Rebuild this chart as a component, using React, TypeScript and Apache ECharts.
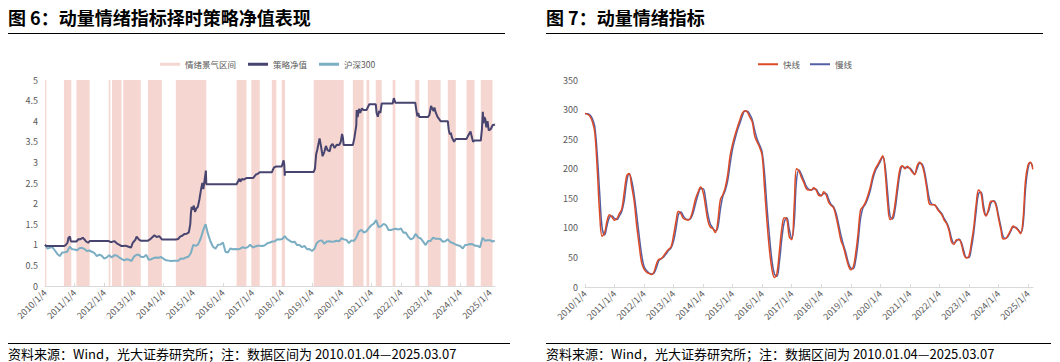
import React, { useEffect, useRef } from 'react';
import * as echarts from 'echarts';

const FONT = '"Noto Sans CJK SC", "Noto Sans", sans-serif';

const TITLE_LEFT = '图 6：动量情绪指标择时策略净值表现';
const TITLE_RIGHT = '图 7：动量情绪指标';
const FOOTER = '资料来源：Wind，光大证券研究所；注：数据区间为 2010.01.04—2025.03.07';

const TICK_LABELS = [
  '2010/1/4', '2011/1/4', '2012/1/4', '2013/1/4', '2014/1/4', '2015/1/4', '2016/1/4', '2017/1/4',
  '2018/1/4', '2019/1/4', '2020/1/4', '2021/1/4', '2022/1/4', '2023/1/4', '2024/1/4', '2025/1/4',
];
const START_DATE = '2010-01-04';
const END_DATE = '2025-03-07';

// 情绪景气区间 (start, end)
const SENTIMENT_PERIODS: [string, string][] = [
  ['2010-01-04', '2010-01-20'],
  ['2010-08-25', '2010-11-24'],
  ['2011-01-26', '2011-07-08'],
  ['2012-02-28', '2012-03-18'],
  ['2012-04-08', '2012-08-03'],
  ['2012-08-25', '2013-03-28'],
  ['2013-06-25', '2013-12-13'],
  ['2014-06-03', '2015-06-13'],
  ['2016-06-20', '2016-10-19'],
  ['2016-12-19', '2017-04-01'],
  ['2017-08-28', '2017-10-22'],
  ['2017-12-28', '2018-02-06'],
  ['2019-01-26', '2020-01-30'],
  ['2020-05-22', '2020-09-30'],
  ['2020-11-06', '2020-12-10'],
  ['2021-02-28', '2021-05-12'],
  ['2021-09-24', '2021-10-27'],
  ['2022-06-29', '2022-08-18'],
  ['2022-12-01', '2023-05-07'],
  ['2023-08-04', '2023-11-10'],
  ['2024-03-22', '2024-06-28'],
  ['2024-09-13', '2025-02-04'],
];

// 策略净值 (date, value)
const STRATEGY_NAV: [string, number][] = [
  ['2010-01-04', 1.0], ['2010-01-20', 0.97],
  ['2010-08-25', 0.97], ['2010-09-15', 0.99], ['2010-10-08', 1.05], ['2010-10-20', 1.17], ['2010-11-08', 1.2], ['2010-11-15', 1.1], ['2010-11-24', 1.08],
  ['2011-01-26', 1.08], ['2011-02-20', 1.14], ['2011-03-10', 1.13], ['2011-04-15', 1.17], ['2011-05-10', 1.12], ['2011-05-25', 1.08], ['2011-06-20', 1.05], ['2011-07-08', 1.09],
  ['2012-02-28', 1.09], ['2012-03-18', 1.07],
  ['2012-04-08', 1.07], ['2012-05-05', 1.09], ['2012-06-10', 1.03], ['2012-07-10', 1.0], ['2012-08-03', 0.97],
  ['2012-08-25', 0.97], ['2012-09-20', 0.98], ['2012-10-20', 0.96], ['2012-11-28', 0.93], ['2012-12-20', 1.05], ['2013-01-20', 1.12], ['2013-02-05', 1.2], ['2013-02-25', 1.15], ['2013-03-10', 1.12], ['2013-03-28', 1.1],
  ['2013-06-25', 1.1], ['2013-07-20', 1.13], ['2013-08-15', 1.18], ['2013-09-12', 1.23], ['2013-10-10', 1.19], ['2013-11-10', 1.21], ['2013-12-13', 1.13],
  ['2014-06-03', 1.13], ['2014-07-01', 1.14], ['2014-07-25', 1.2], ['2014-08-20', 1.22], ['2014-09-15', 1.26], ['2014-10-15', 1.27], ['2014-11-10', 1.3], ['2014-11-28', 1.5], ['2014-12-05', 1.75], ['2014-12-15', 1.92], ['2014-12-25', 1.85], ['2015-01-10', 1.95], ['2015-01-25', 1.8], ['2015-02-10', 1.88], ['2015-03-01', 1.92], ['2015-03-20', 2.1], ['2015-04-10', 2.35], ['2015-04-25', 2.5], ['2015-05-08', 2.35], ['2015-05-25', 2.6], ['2015-06-08', 2.8], ['2015-06-13', 2.47],
  ['2016-06-20', 2.47], ['2016-07-10', 2.55], ['2016-07-25', 2.6], ['2016-08-05', 2.53], ['2016-08-25', 2.6], ['2016-09-15', 2.58], ['2016-10-19', 2.62],
  ['2016-12-19', 2.62], ['2017-01-15', 2.63], ['2017-02-10', 2.7], ['2017-03-05', 2.72], ['2017-04-01', 2.76],
  ['2017-08-28', 2.76], ['2017-09-10', 2.82], ['2017-09-25', 2.88], ['2017-10-22', 2.9],
  ['2017-12-28', 2.9], ['2018-01-20', 3.05], ['2018-01-28', 2.95], ['2018-02-03', 2.68], ['2018-02-06', 2.77],
  ['2019-01-26', 2.77], ['2019-02-10', 2.85], ['2019-02-25', 3.2], ['2019-03-10', 3.3], ['2019-04-08', 3.58], ['2019-04-25', 3.4], ['2019-05-15', 3.15], ['2019-06-05', 3.25], ['2019-06-25', 3.4], ['2019-07-15', 3.3], ['2019-08-10', 3.27], ['2019-08-25', 3.4], ['2019-09-15', 3.45], ['2019-10-10', 3.35], ['2019-11-05', 3.43], ['2019-12-05', 3.42], ['2019-12-25', 3.5], ['2020-01-10', 3.69], ['2020-01-20', 3.6], ['2020-01-30', 3.42],
  ['2020-05-22', 3.42], ['2020-06-10', 3.6], ['2020-07-03', 3.9], ['2020-07-08', 4.27], ['2020-07-20', 4.1], ['2020-08-05', 4.3], ['2020-08-20', 4.2], ['2020-09-10', 4.31], ['2020-09-30', 4.27],
  ['2020-11-06', 4.27], ['2020-11-25', 4.35], ['2020-12-10', 4.41],
  ['2021-02-28', 4.41], ['2021-03-10', 4.2], ['2021-03-25', 4.11], ['2021-04-10', 4.25], ['2021-04-25', 4.2], ['2021-05-12', 4.43],
  ['2021-09-24', 4.43], ['2021-10-08', 4.56], ['2021-10-27', 4.45],
  ['2022-06-29', 4.45], ['2022-07-10', 4.3], ['2022-07-25', 4.12], ['2022-08-05', 4.2], ['2022-08-18', 4.1],
  ['2022-12-01', 4.1], ['2022-12-20', 4.15], ['2023-01-10', 4.37], ['2023-01-25', 4.3], ['2023-02-10', 4.25], ['2023-02-20', 4.33], ['2023-03-10', 4.2], ['2023-04-01', 4.1], ['2023-04-20', 4.05], ['2023-05-07', 4.0],
  ['2023-08-04', 4.0], ['2023-08-15', 3.8], ['2023-08-28', 3.68], ['2023-09-10', 3.72], ['2023-09-25', 3.6], ['2023-10-20', 3.5], ['2023-11-10', 3.57],
  ['2024-03-22', 3.57], ['2024-04-10', 3.65], ['2024-05-10', 3.75], ['2024-05-25', 3.62], ['2024-06-10', 3.5], ['2024-06-28', 3.53],
  ['2024-09-13', 3.53], ['2024-09-27', 3.8], ['2024-10-08', 4.23], ['2024-10-15', 3.95], ['2024-10-25', 4.1], ['2024-11-08', 4.05], ['2024-11-20', 3.85], ['2024-12-05', 4.0], ['2024-12-20', 3.78], ['2025-01-10', 3.8], ['2025-01-25', 3.85], ['2025-02-04', 3.9],
  ['2025-03-07', 3.92],
];

// 沪深300 (normalized), monthly from 2010-01
const CSI300: number[] = [
  1.000, 0.906, 0.928, 0.946, 0.868, 0.780, 0.725, 0.811, 0.821, 0.831, 0.956, 0.892,
  0.885, 0.870, 0.917, 0.927, 0.899, 0.851, 0.861, 0.832, 0.801, 0.725, 0.762, 0.734,
  0.664, 0.697, 0.745, 0.694, 0.744, 0.742, 0.696, 0.660, 0.623, 0.649, 0.638, 0.605,
  0.714, 0.760, 0.756, 0.706, 0.701, 0.756, 0.638, 0.648, 0.681, 0.693, 0.685, 0.704,
  0.659, 0.623, 0.616, 0.607, 0.610, 0.611, 0.612, 0.665, 0.661, 0.693, 0.710, 0.795,
  0.999, 0.972, 1.010, 1.146, 1.343, 1.500, 1.265, 1.079, 0.952, 0.906, 1.000, 1.009,
  1.055, 0.833, 0.814, 0.910, 0.893, 0.897, 0.892, 0.906, 0.941, 0.920, 0.944, 1.001,
  0.936, 0.958, 0.977, 0.978, 0.973, 0.988, 1.037, 1.057, 1.081, 1.085, 1.133, 1.131,
  1.140, 1.209, 1.138, 1.103, 1.063, 1.076, 0.993, 0.995, 0.943, 0.973, 0.892, 0.897,
  0.851, 0.906, 1.038, 1.095, 1.107, 1.027, 1.082, 1.085, 1.075, 1.079, 1.099, 1.083,
  1.159, 1.132, 1.115, 1.043, 1.107, 1.094, 1.178, 1.328, 1.362, 1.298, 1.328, 1.403,
  1.474, 1.514, 1.600, 1.428, 1.449, 1.508, 1.478, 1.361, 1.360, 1.376, 1.388, 1.367,
  1.397, 1.291, 1.296, 1.195, 1.136, 1.157, 1.269, 1.180, 1.154, 1.076, 0.993, 1.090,
  1.095, 1.176, 1.149, 1.146, 1.140, 1.075, 1.087, 1.133, 1.065, 1.044, 1.011, 0.989,
  0.971, 0.910, 0.995, 1.001, 1.020, 1.013, 0.979, 0.974, 0.939, 1.170, 1.101, 1.108,
  1.113, 1.080, 1.101,
];

// 快线, monthly from 2010-01
const FAST_LINE: number[] = [
  294, 292, 289, 280, 262, 200, 125, 86, 92, 112, 122, 118,
  113, 116, 124, 132, 160, 188, 192, 170, 145, 105, 72, 42,
  30, 25, 23, 21, 25, 38, 47, 48, 53, 59, 64, 68,
  88, 112, 128, 124, 116, 114, 113, 118, 133, 150, 161, 169,
  160, 135, 112, 101, 99, 92, 110, 147, 156, 168, 190, 222,
  242, 258, 270, 283, 294, 298, 296, 287, 279, 255, 245, 236,
  222, 164, 110, 62, 30, 16, 22, 60, 100, 117, 115, 85,
  80, 140, 200, 196, 185, 176, 166, 164, 164, 168, 163, 155,
  154, 161, 156, 144, 138, 134, 120, 100, 79, 68, 52, 37,
  29, 34, 55, 90, 130, 136, 143, 155, 170, 188, 200, 207,
  215, 222, 195, 142, 114, 118, 140, 173, 200, 205, 200, 204,
  200, 194, 190, 205, 211, 206, 190, 164, 140, 139, 139, 133,
  127, 122, 113, 107, 95, 76, 72, 80, 80, 72, 55, 49,
  52, 75, 100, 140, 164, 158, 130, 120, 132, 145, 145, 138,
  117, 97, 81, 82, 88, 96, 103, 100, 96, 90, 115, 180,
  206, 211, 199,
];

// 慢线, monthly from 2010-01
const SLOW_LINE: number[] = [
  293, 293, 291, 285, 272, 225, 160, 100, 88, 104, 118, 120,
  116, 114, 120, 128, 146, 178, 192, 180, 156, 124, 88, 56,
  35, 28, 24, 22, 23, 32, 44, 48, 51, 56, 62, 66,
  78, 100, 122, 127, 120, 115, 114, 116, 126, 142, 157, 166,
  166, 148, 123, 106, 100, 95, 100, 130, 153, 163, 180, 208,
  234, 251, 265, 277, 289, 297, 297, 292, 283, 265, 250, 240,
  228, 190, 135, 85, 45, 22, 18, 42, 82, 110, 117, 98,
  82, 110, 180, 198, 190, 180, 170, 165, 164, 166, 165, 158,
  155, 158, 158, 149, 140, 136, 126, 108, 88, 72, 58, 42,
  32, 31, 44, 75, 115, 134, 140, 150, 164, 182, 196, 204,
  212, 220, 205, 160, 120, 115, 130, 162, 192, 204, 202, 202,
  201, 196, 191, 200, 209, 208, 196, 172, 148, 140, 139, 135,
  129, 124, 116, 109, 99, 82, 74, 78, 81, 75, 60, 50,
  50, 66, 90, 128, 158, 160, 138, 122, 128, 142, 146, 141,
  122, 102, 85, 82, 86, 94, 101, 101, 97, 92, 105, 165,
  200, 210, 203,
];

const PINK = '#F5D6D0';
const NAVY = '#474470';
const LIGHTBLUE = '#7BAEC3';
const RED = '#DD4A25';
const PURPLE = '#5460A3';
const AXIS_GRAY = '#D9D9D9';
const LABEL_GRAY = '#595959';

const DAY = 86400000;
function toYear(d: string): number {
  const [y, m, day] = d.split('-').map(Number);
  const [y0, m0, d0] = START_DATE.split('-').map(Number);
  return 2010 + (Date.UTC(y, m - 1, day) - Date.UTC(y0, m0 - 1, d0)) / (365.25 * DAY);
}
function monthDate(i: number): string {
  const y = 2010 + Math.floor(i / 12);
  const m = (i % 12) + 1;
  return `${y}-${String(m).padStart(2, '0')}-04`;
}
const monthly = (arr: number[]) => arr.map((v, i) => [toYear(monthDate(i)), v]);

function xAxisFor(gridIndex: number) {
  return {
    gridIndex,
    type: 'value',
    min: 2010,
    max: toYear(END_DATE),
    interval: 1,
    axisLine: { show: true, lineStyle: { color: AXIS_GRAY, width: 1 } },
    axisTick: { show: true, inside: true, length: 3, lineStyle: { color: AXIS_GRAY } },
    splitLine: { show: false },
    axisLabel: {
      rotate: 45,
      fontSize: 9,
      color: LABEL_GRAY,
      fontFamily: FONT,
      margin: 5,
      showMaxLabel: false,
      hideOverlap: false,
      formatter: (v: number) => {
        const r = Math.round(v);
        return Math.abs(v - r) < 1e-6 ? TICK_LABELS[r - 2010] ?? '' : '';
      },
    },
  };
}

function yAxisFor(gridIndex: number, max: number, interval: number) {
  return {
    gridIndex,
    type: 'value',
    min: 0,
    max,
    interval,
    axisLine: { show: false },
    axisTick: { show: false },
    splitLine: { show: false },
    axisLabel: { fontSize: 9, color: LABEL_GRAY, fontFamily: FONT, margin: 7 },
  };
}

function textEl(x: number, y: number, text: string, size: number, bold: boolean) {
  return {
    type: 'text',
    x,
    y,
    style: {
      text,
      fontSize: size,
      fontWeight: bold ? 'bold' : 'normal',
      fontFamily: FONT,
      fill: '#000',
      verticalAlign: 'middle',
      align: 'left',
    },
  };
}
function lineEl(x1: number, x2: number, y: number) {
  return {
    type: 'line',
    shape: { x1, y1: y, x2, y2: y },
    style: { stroke: '#000', lineWidth: 1 },
  };
}

export default function App() {
  const ref = useRef<HTMLDivElement>(null);
  useEffect(() => {
    if (!ref.current) return;
    const chart = echarts.init(ref.current, undefined, { renderer: 'svg' });
    const legendText = { fontSize: 8.5, color: LABEL_GRAY, fontFamily: FONT };
    const option: any = {
      animation: false,
      backgroundColor: '#fff',
      textStyle: { fontFamily: FONT },
      graphic: [
        textEl(8, 17, TITLE_LEFT, 18, true),
        lineEl(8, 505, 33.5),
        textEl(546, 17, TITLE_RIGHT, 18, true),
        lineEl(546, 1043, 33.5),
        lineEl(8, 510, 343.5),
        textEl(8, 353, FOOTER, 13, false),
        lineEl(546, 1051, 343.5),
        textEl(546, 353, FOOTER, 13, false),
      ],
      legend: [
        {
          left: 155,
          top: 55,
          itemWidth: 20,
          itemHeight: 3,
          itemGap: 12,
          textStyle: legendText,
          data: [
            { name: '情绪景气区间', icon: 'rect' },
            { name: '策略净值', icon: 'rect' },
            { name: '沪深300', icon: 'rect' },
          ],
        },
        {
          left: 753,
          top: 55,
          itemWidth: 20,
          itemHeight: 2,
          itemGap: 10,
          textStyle: legendText,
          data: [
            { name: '快线', icon: 'rect' },
            { name: '慢线', icon: 'rect' },
          ],
        },
      ],
      grid: [
        { left: 45, right: 565, top: 80, bottom: 76 },
        { left: 585, right: 27, top: 80, bottom: 75 },
      ],
      xAxis: [xAxisFor(0), xAxisFor(1)],
      yAxis: [yAxisFor(0, 5, 0.5), yAxisFor(1, 350, 50)],
      series: [
        {
          name: '情绪景气区间',
          type: 'line',
          xAxisIndex: 0,
          yAxisIndex: 0,
          data: [],
          z: 1,
          color: PINK,
          itemStyle: { color: PINK },
          lineStyle: { color: PINK },
          markArea: {
            silent: true,
            itemStyle: { color: PINK, opacity: 1 },
            label: { show: false },
            data: SENTIMENT_PERIODS.map(([s, e]) => [{ xAxis: toYear(s) }, { xAxis: toYear(e) }]),
          },
        },
        {
          name: '沪深300',
          type: 'line',
          xAxisIndex: 0,
          yAxisIndex: 0,
          data: monthly(CSI300),
          symbol: 'none',
          z: 3,
          color: LIGHTBLUE,
          lineStyle: { color: LIGHTBLUE, width: 2 },
        },
        {
          name: '策略净值',
          type: 'line',
          xAxisIndex: 0,
          yAxisIndex: 0,
          data: STRATEGY_NAV.map(([d, v]) => [toYear(d), v]),
          symbol: 'none',
          z: 4,
          color: NAVY,
          lineStyle: { color: NAVY, width: 2 },
        },
        {
          name: '慢线',
          type: 'line',
          xAxisIndex: 1,
          yAxisIndex: 1,
          data: monthly(SLOW_LINE),
          symbol: 'none',
          smooth: 0.4,
          z: 3,
          color: PURPLE,
          lineStyle: { color: PURPLE, width: 1.5 },
        },
        {
          name: '快线',
          type: 'line',
          xAxisIndex: 1,
          yAxisIndex: 1,
          data: monthly(FAST_LINE),
          symbol: 'none',
          smooth: 0.4,
          z: 4,
          color: RED,
          lineStyle: { color: RED, width: 1.5 },
        },
      ],
    };
    chart.setOption(option);
    return () => chart.dispose();
  }, []);
  return (
    <div
      ref={ref}
      style={{ position: 'absolute', left: 0, top: 0, width: 1060, height: 362, background: '#fff' }}
    />
  );
}
